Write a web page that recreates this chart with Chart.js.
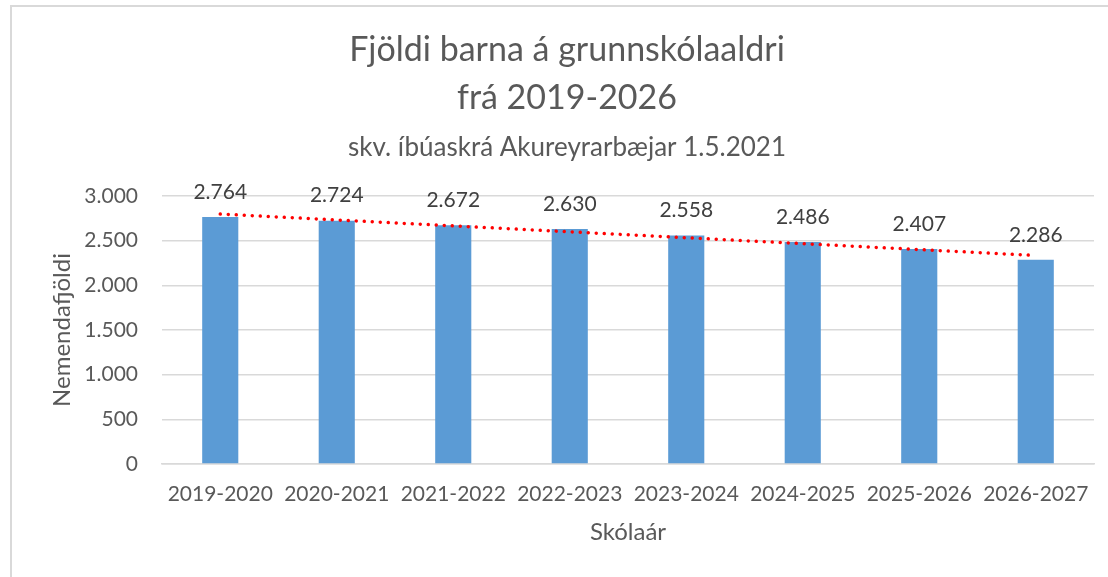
<!DOCTYPE html>
<html lang="is">
<head>
<meta charset="utf-8">
<title>Fjöldi barna á grunnskólaaldri</title>
<script src="https://cdn.jsdelivr.net/npm/chart.js@4.4.1/dist/chart.umd.min.js"></script>
<style>
  html, body { margin: 0; padding: 0; background: #fff; overflow: hidden; }
  .frame {
    position: absolute; left: 10px; top: 5px;
    width: 1140px; height: 620px;
    border: 2px solid #d9d9d9;
  }
  .wrap { position: absolute; left: 0; top: 0; width: 1108px; height: 577px; }
</style>
</head>
<body>
<div class="frame"></div>
<div class="wrap"><canvas id="studentChart"></canvas></div>
<script>
// skólaár og nemendafjöldi
const schoolYears = ['2019-2020', '2020-2021', '2021-2022', '2022-2023', '2023-2024', '2024-2025', '2025-2026', '2026-2027'];
const pupils = [2764, 2724, 2672, 2630, 2558, 2486, 2407, 2286];
// endapunktar leitnilínu, lesnir af myndinni
const trendEnds = [2798, 2334];
const yTicks = [0, 500, 1000, 1500, 2000, 2500, 3000];

const FONT = 'Lato, "Open Sans", sans-serif';
const GREY = '#595959';

function fmt(v) {
  return String(v).replace(/\B(?=(\d{3})+(?!\d))/g, '.');
}

const trendData = schoolYears.map((_, i) => {
  if (i === 0) return trendEnds[0];
  if (i === schoolYears.length - 1) return trendEnds[1];
  return null;
});

const barLabels = {
  id: 'barLabels',
  afterDatasetsDraw(chart) {
    const meta = chart.getDatasetMeta(0);
    const ctx = chart.ctx;
    ctx.save();
    ctx.font = '21px ' + FONT;
    ctx.fillStyle = '#404040';
    ctx.textAlign = 'center';
    ctx.textBaseline = 'middle';
    meta.data.forEach((bar, i) => {
      ctx.fillText(fmt(pupils[i]), bar.x, bar.y - 25);
    });
    ctx.restore();
  }
};

document.addEventListener('DOMContentLoaded', () => {
  const ctx = document.getElementById('studentChart');
  new Chart(ctx, {
    type: 'bar',
    data: {
      labels: schoolYears,
      datasets: [
        {
          label: 'Nemendafjöldi',
          data: pupils,
          backgroundColor: '#5b9bd5',
          categoryPercentage: 1,
          barPercentage: 0.31,
          order: 1,
        },
        {
          type: 'line',
          label: 'Leitni',
          data: trendData,
          spanGaps: true,
          borderColor: '#ff0000',
          borderWidth: 3.5,
          borderDash: [0.01, 8],
          borderCapStyle: 'round',
          pointRadius: 0,
          fill: false,
          order: 0,
        },
      ],
    },
    options: {
      responsive: true,
      maintainAspectRatio: false,
      animation: false,
      layout: {
        padding: { left: 40, right: 14, top: 0, bottom: 0 },
      },
      scales: {
        x: {
          grid: { display: false, drawTicks: false },
          border: { display: true, color: '#d9d9d9', width: 1.5 },
          ticks: {
            color: GREY,
            padding: 18,
            maxRotation: 0,
            autoSkip: false,
            font: { family: FONT, size: 21 },
          },
          title: {
            display: true,
            text: 'Skólaár',
            color: GREY,
            font: { family: FONT, size: 24 },
            padding: { top: 0, bottom: 30.6 },
          },
          afterFit(scale) { scale.height = 113; },
        },
        y: {
          min: 0,
          max: 3000,
          afterBuildTicks(scale) {
            scale.ticks = yTicks.map((v) => ({ value: v }));
          },
          grid: { color: '#d9d9d9', lineWidth: 1.5, drawTicks: false },
          border: { display: false },
          ticks: {
            color: GREY,
            padding: 24,
            font: { family: FONT, size: 21 },
            callback: (v) => fmt(v),
          },
          title: {
            display: true,
            text: 'Nemendafjöldi',
            color: GREY,
            font: { family: FONT, size: 24 },
            padding: { top: 7.6, bottom: 0 },
          },
          afterFit(scale) { scale.width = 122; },
        },
      },
      plugins: {
        legend: { display: false },
        tooltip: { enabled: false },
        title: {
          display: true,
          text: ['Fjöldi barna á grunnskólaaldri', 'frá 2019-2026'],
          color: GREY,
          font: { family: FONT, size: 34, weight: 'normal', lineHeight: 48 / 34 },
          padding: { top: 26, bottom: 0 },
        },
        subtitle: {
          display: true,
          text: 'skv. íbúaskrá Akureyrarbæjar 1.5.2021',
          color: GREY,
          font: { family: FONT, size: 26, weight: 'normal', lineHeight: 1.2 },
          padding: { top: 10.4, bottom: 32.4 },
        },
      },
    },
    plugins: [barLabels],
  });
});
</script>
</body>
</html>
